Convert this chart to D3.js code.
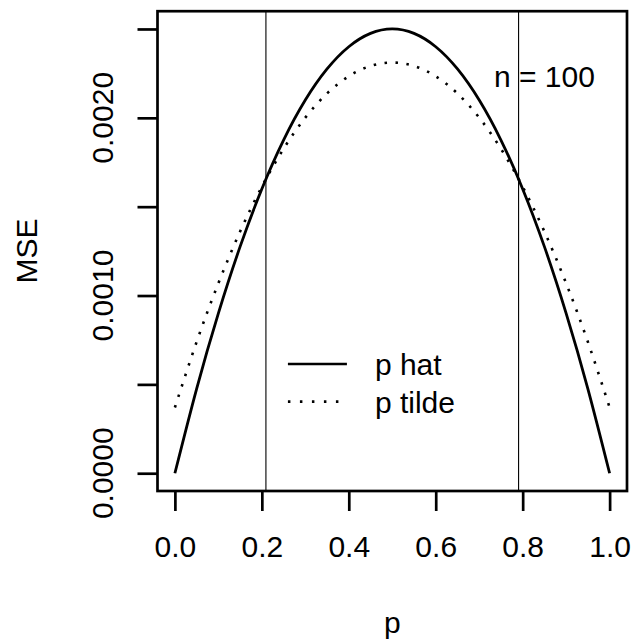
<!DOCTYPE html>
<html>

<head>
    <script src="https://d3js.org/d3.v7.min.js"></script>
    <style>
        body { margin: 0; background: #fff; }
        text { font-family: "Liberation Sans", Arial, Helvetica, sans-serif; fill: #000; }
    </style>
    <script>
        const w = 634
        const h = 643
        const n = 100
        const fontSize = "30px"
        // p grid and the two MSE curves
        const pValues = [0, 0.05, 0.1, 0.15, 0.2, 0.25, 0.3, 0.35, 0.4, 0.45, 0.5,
            0.55, 0.6, 0.65, 0.7, 0.75, 0.8, 0.85, 0.9, 0.95, 1]
        const mseHat = [0, 0.000475, 0.0009, 0.001275, 0.0016, 0.001875, 0.0021, 0.002275, 0.0024, 0.002475, 0.0025,
            0.002475, 0.0024, 0.002275, 0.0021, 0.001875, 0.0016, 0.001275, 0.0009, 0.000475, 0]
        const mseTilde = [0.00037, 0.000739, 0.001069, 0.00136, 0.001612, 0.001826, 0.002001, 0.002137, 0.002234, 0.002292, 0.002311,
            0.002292, 0.002234, 0.002137, 0.002001, 0.001826, 0.001612, 0.00136, 0.001069, 0.000739, 0.00037]
        const crossings = [0.2094, 0.7906]
        const xTicks = [0, 0.2, 0.4, 0.6, 0.8, 1]
        const yTicks = [0, 0.0005, 0.001, 0.0015, 0.002, 0.0025]
        const yTickLabels = [0, 0.001, 0.002]
        const legendItems = [{ label: "p hat", dash: null }, { label: "p tilde", dash: "2.5,9.5" }]

        function doSVG() {
            const svg = d3.select("body").append("svg")
                .attr("width", w)
                .attr("height", h)

            // R style: 4% padding on each side of the data range
            const x = d3.scaleLinear().domain([-0.04, 1.04]).range([157.5, 627])
            const y = d3.scaleLinear().domain([-0.0001, 0.0026]).range([491, 11.2])

            const pts = (vals) => pValues.map((p, i) => [p, vals[i]])
            const line = d3.line().x(d => x(d[0])).y(d => y(d[1])).curve(d3.curveNatural)

            // vertical lines where the curves cross
            svg.selectAll(".vline")
                .data(crossings)
                .enter()
                .append("line")
                .attr("x1", d => x(d)).attr("x2", d => x(d))
                .attr("y1", y.range()[0]).attr("y2", y.range()[1])
                .attr("stroke", "#000").attr("stroke-width", 1.1)

            svg.append("path")
                .attr("d", line(pts(mseHat)))
                .attr("fill", "none").attr("stroke", "#000").attr("stroke-width", 2.8)

            svg.append("path")
                .attr("d", line(pts(mseTilde)))
                .attr("fill", "none").attr("stroke", "#000").attr("stroke-width", 2.6)
                .attr("stroke-dasharray", "2.5,8.5")

            // box
            svg.append("rect")
                .attr("x", x.range()[0]).attr("y", y.range()[1])
                .attr("width", x.range()[1] - x.range()[0])
                .attr("height", y.range()[0] - y.range()[1])
                .attr("fill", "none").attr("stroke", "#000").attr("stroke-width", 2.7)

            // x axis
            const xAxis = svg.append("g")
                .attr("transform", `translate(0, ${y.range()[0]})`)
                .call(d3.axisBottom(x).tickValues(xTicks).tickSize(20).tickFormat(d3.format(".1f")))
            xAxis.select(".domain").attr("stroke", "none")
            xAxis.selectAll(".tick line").attr("stroke-width", 2.7)
            xAxis.selectAll(".tick text").attr("y", 66).attr("dy", null)
                .style("font-size", fontSize).style("font-family", "Liberation Sans, Arial, sans-serif")

            // y axis
            const yAxis = svg.append("g")
                .attr("transform", `translate(${x.range()[0]}, 0)`)
                .call(d3.axisLeft(y).tickValues(yTicks).tickSize(20).tickFormat(""))
            yAxis.select(".domain").attr("stroke", "none")
            yAxis.selectAll(".tick line").attr("stroke-width", 2.7)

            svg.selectAll(".ylab")
                .data(yTickLabels)
                .enter()
                .append("text")
                .attr("transform", d => `translate(113, ${y(d)}) rotate(-90)`)
                .attr("text-anchor", "middle")
                .style("font-size", fontSize)
                .text(d => d3.format(".4f")(d))

            // axis titles
            svg.append("text")
                .attr("x", (x.range()[0] + x.range()[1]) / 2).attr("y", 633)
                .attr("text-anchor", "middle").style("font-size", fontSize)
                .text("p")
            svg.append("text")
                .attr("transform", `translate(37, ${(y.range()[0] + y.range()[1]) / 2}) rotate(-90)`)
                .attr("text-anchor", "middle").style("font-size", fontSize)
                .text("MSE")

            svg.append("text")
                .attr("x", x(0.85)).attr("y", y(0.002172))
                .attr("text-anchor", "middle").style("font-size", fontSize)
                .text("n = " + n)

            // legend
            const legend = svg.selectAll(".legend")
                .data(legendItems)
                .enter()
                .append("g")
                .attr("transform", (d, i) => `translate(${x(0.26)}, ${y(0.000615) + i * 37.7})`)
            legend.append("line")
                .attr("x1", 0).attr("x2", 59)
                .attr("stroke", "#000").attr("stroke-width", 2.6)
                .attr("stroke-dasharray", d => d.dash)
            legend.append("text")
                .attr("x", 87).attr("dy", "0.38em")
                .style("font-size", fontSize)
                .text(d => d.label)
        }
    </script>
</head>

<body onload="doSVG()">
</body>

</html>
